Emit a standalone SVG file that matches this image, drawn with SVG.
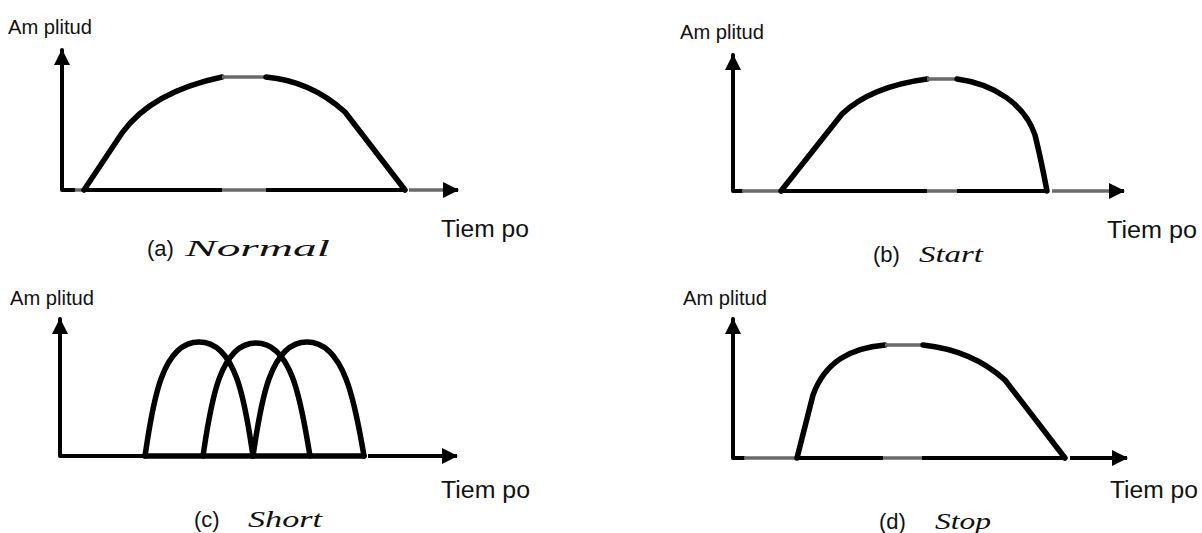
<svg xmlns="http://www.w3.org/2000/svg" width="1202" height="533" viewBox="0 0 1202 533">
<defs>
<marker id="ah" markerUnits="userSpaceOnUse" markerWidth="18" markerHeight="18" refX="15" refY="8" orient="auto">
<path d="M0,0 L16,8 L0,16 Z" fill="#000"/>
</marker>
</defs>
<style>
.ax{fill:none;stroke:#000;stroke-width:4;stroke-linecap:round;stroke-linejoin:round}
.gr{fill:none;stroke:#6a6a6a;stroke-width:3.5}
.cv{fill:none;stroke:#000;stroke-width:5.5;stroke-linecap:round;stroke-linejoin:round}
.bl{fill:none;stroke:#000;stroke-width:4}
.lab{font-family:"Liberation Sans",Arial,sans-serif;font-size:20px;fill:#111}
.tm{font-family:"Liberation Sans",Arial,sans-serif;font-size:23px;fill:#111}
.cap{font-family:"Liberation Sans",Arial,sans-serif;font-size:22px;fill:#111}
.it{font-family:"Liberation Serif","Times New Roman",serif;font-style:italic;fill:#111}
</style>

<g id="panel-a">
<path class="ax" d="M62,60 L62,190 L74,190"/>
<line class="ax" x1="62" y1="60" x2="62" y2="50" marker-end="url(#ah)"/>
<line class="gr" x1="75" y1="190" x2="84" y2="190"/>
<path class="cv" d="M84,190 L122,133 C140,108 170,88 222,77"/>
<line class="gr" x1="222" y1="77" x2="266" y2="77"/>
<path class="cv" d="M266,77 C300,80 325,94 345,112 L405,190"/>
<line class="bl" x1="84" y1="190" x2="222" y2="190"/>
<line class="gr" x1="222" y1="190" x2="266" y2="190"/>
<line class="bl" x1="266" y1="190" x2="405" y2="190"/>
<line class="gr" x1="409" y1="190" x2="452" y2="190"/>
<line class="bl" x1="446" y1="190" x2="458" y2="190" marker-end="url(#ah)"/>
<text class="lab" x="8" y="34" textLength="84" lengthAdjust="spacingAndGlyphs">Am plitud</text>
<text class="tm" x="441" y="237" textLength="88" lengthAdjust="spacingAndGlyphs">Tiem po</text>
<text class="cap" x="147" y="256">(a)</text>
<text class="it" x="185" y="256" font-size="24" textLength="145" lengthAdjust="spacingAndGlyphs">Normal</text>
</g>

<g id="panel-b">
<path class="ax" d="M733,64 L733,191 L742,191"/>
<line class="ax" x1="733" y1="64" x2="733" y2="55" marker-end="url(#ah)"/>
<line class="gr" x1="742" y1="191" x2="780" y2="191"/>
<path class="cv" d="M781,191 L842,114 C862,95 890,84 927,79"/>
<line class="gr" x1="927" y1="79" x2="957" y2="79"/>
<path class="cv" d="M957,79 C995,84 1025,105 1035,135 C1040,155 1043,170 1047,191"/>
<line class="bl" x1="781" y1="191" x2="927" y2="191"/>
<line class="gr" x1="927" y1="191" x2="957" y2="191"/>
<line class="bl" x1="957" y1="191" x2="1047" y2="191"/>
<line class="gr" x1="1052" y1="191" x2="1116" y2="191"/>
<line class="bl" x1="1112" y1="191" x2="1124" y2="191" marker-end="url(#ah)"/>
<text class="lab" x="680" y="39" textLength="84" lengthAdjust="spacingAndGlyphs">Am plitud</text>
<text class="tm" x="1107" y="238" textLength="90" lengthAdjust="spacingAndGlyphs">Tiem po</text>
<text class="cap" x="873" y="262">(b)</text>
<text class="it" x="919" y="262" font-size="24" textLength="64" lengthAdjust="spacingAndGlyphs">Start</text>
</g>

<g id="panel-c">
<path class="ax" d="M60,328 L60,456 L143,456"/>
<line class="ax" x1="60" y1="328" x2="60" y2="319" marker-end="url(#ah)"/>
<path class="cv" d="M145,456 C152,410 160,342 199,342 C238,342 246,410 253,456"/>
<path class="cv" d="M203,456 C210,410 218,343 256,343 C294,343 302,410 310,456"/>
<path class="cv" d="M253,456 C260,410 268,342 307,342 C346,342 356,410 364,456"/>
<line class="cv" x1="145" y1="456" x2="364" y2="456"/>
<line class="bl" x1="368" y1="456" x2="457" y2="456" marker-end="url(#ah)"/>
<text class="lab" x="10" y="305" textLength="84" lengthAdjust="spacingAndGlyphs">Am plitud</text>
<text class="tm" x="441" y="498" textLength="89" lengthAdjust="spacingAndGlyphs">Tiem po</text>
<text class="cap" x="194" y="527">(c)</text>
<text class="it" x="248" y="527" font-size="24" textLength="74" lengthAdjust="spacingAndGlyphs">Short</text>
</g>

<g id="panel-d">
<path class="ax" d="M733,328 L733,458 L744,458"/>
<line class="ax" x1="733" y1="328" x2="733" y2="319" marker-end="url(#ah)"/>
<line class="gr" x1="744" y1="458" x2="795" y2="458"/>
<path class="cv" d="M797,458 L813,395 C825,362 850,348 885,345"/>
<line class="gr" x1="885" y1="345" x2="923" y2="345"/>
<path class="cv" d="M923,345 C960,349 985,362 1005,380 L1065,458"/>
<line class="bl" x1="797" y1="458" x2="883" y2="458"/>
<line class="gr" x1="883" y1="458" x2="922" y2="458"/>
<line class="bl" x1="922" y1="458" x2="1065" y2="458"/>
<line class="bl" x1="1070" y1="458" x2="1127" y2="458" marker-end="url(#ah)"/>
<text class="lab" x="683" y="305" textLength="84" lengthAdjust="spacingAndGlyphs">Am plitud</text>
<text class="tm" x="1110" y="498" textLength="88" lengthAdjust="spacingAndGlyphs">Tiem po</text>
<text class="cap" x="879" y="529">(d)</text>
<text class="it" x="935" y="529" font-size="24" textLength="56" lengthAdjust="spacingAndGlyphs">Stop</text>
</g>
</svg>
